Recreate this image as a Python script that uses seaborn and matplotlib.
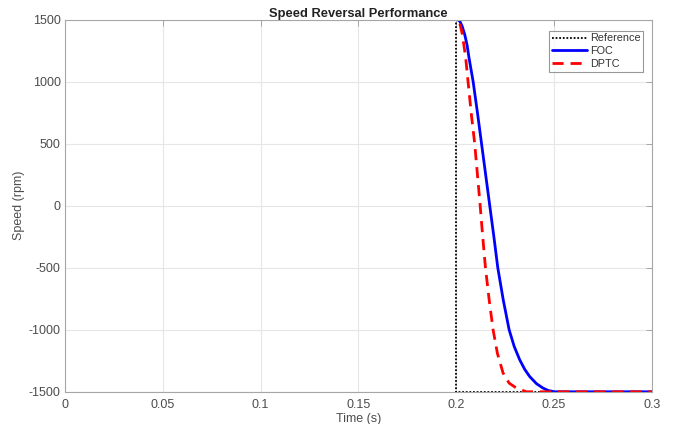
import numpy as np
import pandas as pd
import matplotlib
matplotlib.use("Agg")
import matplotlib.pyplot as plt
import seaborn as sns

# Data
ref_t = [0.0, 0.2, 0.2, 0.3]
ref_speed = [1500, 1500, -1500, -1500]

foc_t = [0.0, 0.2, 0.2008, 0.2018, 0.203, 0.2043, 0.2055, 0.2065, 0.2086, 0.2108, 0.2129,
         0.2150, 0.2171, 0.2192, 0.2212, 0.2240, 0.2270, 0.2296, 0.2324, 0.2350, 0.2375,
         0.2410, 0.2443, 0.2470, 0.2503, 0.3]
foc_speed = [1500, 1500, 1498, 1486, 1445, 1379, 1295, 1191, 1000, 750, 500,
             250, 0, -250, -500, -760, -1000, -1135, -1242, -1320, -1377,
             -1435, -1470, -1490, -1500, -1500]

dptc_t = [0.0, 0.2, 0.2008, 0.2018, 0.2031, 0.2048, 0.2060, 0.2077, 0.2094, 0.2108,
          0.2122, 0.2135, 0.2149, 0.2168, 0.2188, 0.2210, 0.2239, 0.2270, 0.2307, 0.2358, 0.3]
dptc_speed = [1500, 1500, 1496, 1470, 1379, 1191, 1000, 734, 500, 250,
              0, -250, -500, -760, -1000, -1190, -1349, -1430, -1470, -1500, -1500]

x_ticks = [0, 0.05, 0.1, 0.15, 0.2, 0.25, 0.3]
x_tick_labels = ["0", "0.05", "0.1", "0.15", "0.2", "0.25", "0.3"]
y_ticks = [-1500, -1000, -500, 0, 500, 1000, 1500]

sns.set_theme(style="white")
plt.rcParams['font.family'] = ['Liberation Sans', 'DejaVu Sans']
plt.rcParams['axes.unicode_minus'] = False

fig = plt.figure(figsize=(6.77, 4.24), dpi=100)
ax = fig.add_axes([0.096, 0.076, 0.867, 0.878])

sns.lineplot(x=ref_t, y=ref_speed, ax=ax, color="black", linestyle=(0, (1, 1)),
             linewidth=1.3, label="Reference", sort=False, estimator=None)
sns.lineplot(x=foc_t, y=foc_speed, ax=ax, color="#0000ff", linestyle="-",
             linewidth=2.0, label="FOC", sort=False, estimator=None)
sns.lineplot(x=dptc_t, y=dptc_speed, ax=ax, color="#ff0000", linestyle=(0, (4, 2.5)),
             linewidth=2.0, label="DPTC", sort=False, estimator=None)

ax.set_xlim(0, 0.3)
ax.set_ylim(-1500, 1500)
ax.set_xticks(x_ticks)
ax.set_xticklabels(x_tick_labels)
ax.set_yticks(y_ticks)
ax.grid(True, color="#e6e6e6", linewidth=0.8)
ax.set_axisbelow(True)
for s in ax.spines.values():
    s.set_color("#a6a6a6")
    s.set_linewidth(0.8)
ax.tick_params(direction="in", length=4, width=0.7, color="#a6a6a6",
               labelsize=9, labelcolor="#4d4d4d", top=True, right=True,
               pad=3)
ax.tick_params(axis="x", pad=5)

ax.set_xlabel("Time (s)", fontsize=9, color="#4d4d4d", labelpad=2)
ax.set_ylabel("Speed (rpm)", fontsize=9, color="#4d4d4d", labelpad=3)
ax.set_title("Speed Reversal Performance", fontsize=9.3, fontweight="bold",
             color="#222222", pad=1.5)

leg = ax.legend(loc="upper right", fontsize=7.8, frameon=True, fancybox=False,
                handlelength=3.2, handletextpad=0.3, borderpad=0.25,
                labelspacing=0.25, borderaxespad=0.0,
                bbox_to_anchor=(0.985, 0.970))
leg.get_frame().set_edgecolor("#7f7f7f")
leg.get_frame().set_linewidth(0.8)
for t in leg.get_texts():
    t.set_color("#333333")

fig.savefig("out.png", dpi=100)
